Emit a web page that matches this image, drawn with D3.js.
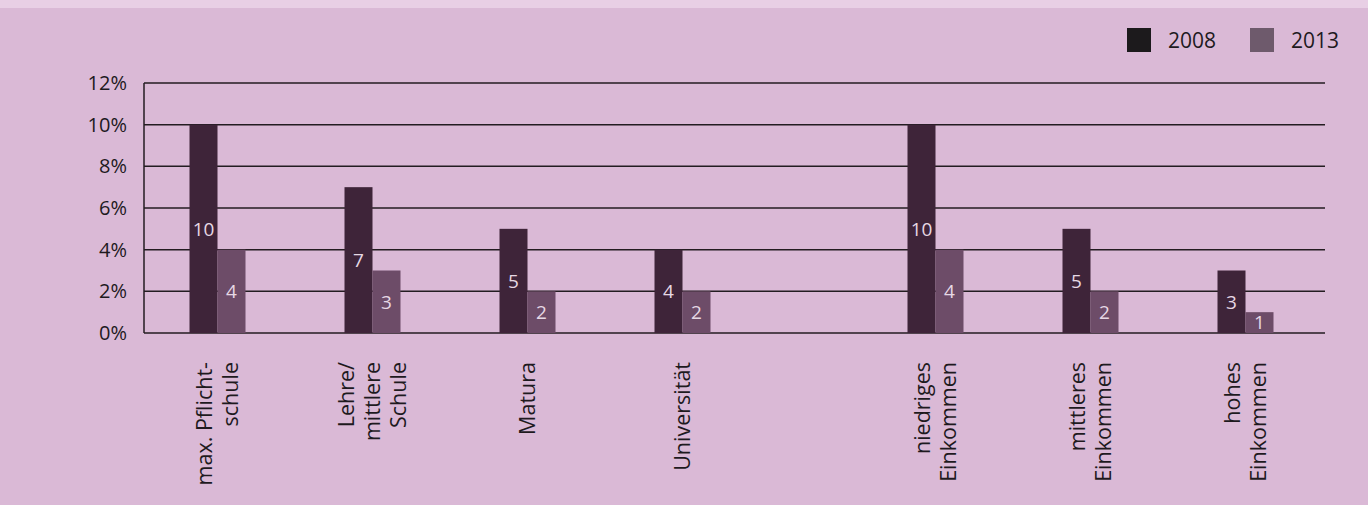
<!DOCTYPE html>
<html><head><meta charset="utf-8">
<script src="https://cdn.jsdelivr.net/npm/d3@7"></script>
<style>
html,body{margin:0;padding:0;background:#dab9d6;}
svg{display:block;}
text{font-family:"Open Sans",sans-serif;}
</style></head>
<body><svg id="c" width="1368" height="505"></svg>
<script>
// ---- data ----
const categories = ["max. Pflicht-|schule","Lehre/|mittlere|Schule","Matura","Universität","niedriges|Einkommen","mittleres|Einkommen","hohes|Einkommen"];
const groups = ["Bildung","Bildung","Bildung","Bildung","Einkommen","Einkommen","Einkommen"];
const series = ["2008","2013"];
const values2008 = [10,7,5,4,10,5,3];
const values2013 = [4,3,2,2,4,2,1];
const yTicks = [0,2,4,6,8,10,12];

const svg = d3.select("#c");
svg.append("rect").attr("x",0).attr("y",0).attr("width",1368).attr("height",505).attr("fill","#dab9d6");
svg.append("rect").attr("x",0).attr("y",0).attr("width",1368).attr("height",8).attr("fill","#e8cfe5");

const plotL = 144, plotR = 1325, plotT = 83, plotB = 333;
const y = d3.scaleLinear().domain([0,12]).range([plotB, plotT]);
const x = d3.scaleBand().domain(categories).range([140, 1225]);
const groupOffset = d3.scaleOrdinal().domain(["Bildung","Einkommen"]).range([0, 98]);
const xs = d3.scaleBand().domain(series).range([0, 56]);
const color = d3.scaleOrdinal().domain(series).range(["#3e2439","#6d4c68"]);
const cx = i => x(categories[i]) + x.bandwidth()/2 + groupOffset(groups[i]);

// gridlines
svg.append("g").selectAll("line").data(yTicks).join("line")
  .attr("x1", plotL).attr("x2", plotR)
  .attr("y1", d => y(d)).attr("y2", d => y(d))
  .attr("stroke", "#231c21").attr("stroke-width", 1.5);
svg.append("line").attr("x1",plotL).attr("x2",plotL).attr("y1",plotT).attr("y2",plotB)
  .attr("stroke","#231c21").attr("stroke-width",1.5);

// y axis labels
const yAxis = d3.axisLeft(y).tickValues(yTicks).tickFormat(d => d + "%").tickSize(0).tickPadding(17);
const ga = svg.append("g").attr("transform", `translate(${plotL},0)`).call(yAxis);
ga.select(".domain").remove();
ga.selectAll("text").attr("font-size", 20).attr("fill", "#1e1a1e").attr("font-family","'Open Sans',sans-serif");

// bars
const rows = categories.map((c,i) => ({i, vals: [values2008[i], values2013[i]]}));
const gBars = svg.append("g");
rows.forEach(r => {
  series.forEach((s,k) => {
    const v = r.vals[k];
    const bx = cx(r.i) - 28 + xs(s);
    gBars.append("rect").attr("x", bx).attr("y", y(v))
      .attr("width", xs.bandwidth()).attr("height", y(0) - y(v))
      .attr("fill", color(s));
    gBars.append("text").attr("x", bx + xs.bandwidth()/2).attr("y", (y(v)+y(0))/2)
      .attr("dy","0.36em").attr("text-anchor","middle")
      .attr("font-size", 19).attr("fill","#e6d8e4").text(v);
  });
});

// x labels (rotated, multi-line)
const gx = svg.append("g");
categories.forEach((c,i) => {
  const lines = c.split("|");
  const n = lines.length;
  lines.forEach((ln,j) => {
    const lx = cx(i) + (j - (n-1)/2) * 26;
    gx.append("text").attr("transform", `translate(${lx},362) rotate(-90)`)
      .attr("text-anchor","end").attr("dy","0.36em")
      .attr("font-size", 21.5).attr("fill","#1e1a1e").text(ln);
  });
});

// legend
const legendColors = ["#1c1a1c","#6e5a6c"];
const legX = [1127, 1250];
series.forEach((s,k) => {
  svg.append("rect").attr("x", legX[k]).attr("y", 28).attr("width", 24).attr("height", 24).attr("fill", legendColors[k]);
  svg.append("text").attr("x", legX[k] + 41).attr("y", 40).attr("dy","0.36em")
    .attr("font-size", 21).attr("fill","#1e1a1e").text(s);
});
</script></body></html>
